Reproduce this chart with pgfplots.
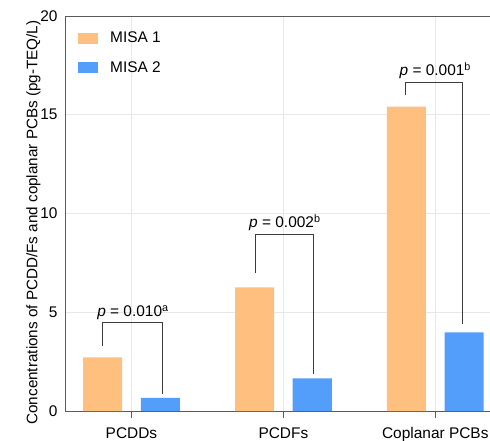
\documentclass[border=0pt]{standalone}
\usepackage{pgfplots}
\pgfplotsset{compat=1.18}
\usepackage{fontspec}
\setmainfont{Liberation Sans}
\definecolor{misaA}{RGB}{254,191,127}
\definecolor{misaB}{RGB}{82,158,250}
\definecolor{axgray}{RGB}{90,90,90}
\definecolor{gridgray}{RGB}{232,232,232}
\definecolor{brk}{RGB}{60,60,60}
\begin{document}
\begin{tikzpicture}
\useasboundingbox (-65bp,-30bp) rectangle (425bp,411bp);
\begin{axis}[
  at={(0,0)}, anchor=south west,
  width=425bp, height=395bp, scale only axis,
  xmin=-0.4375, xmax=2.36,
  ymin=0, ymax=20,
  axis lines=left,
  axis line style={-, axgray, line width=0.9pt},
  xtick={0,1,2},
  xticklabels={PCDDs,PCDFs,Coplanar PCBs},
  ytick={0,5,10,15,20},
  major x tick style={axgray, line width=0.8pt},
  major y tick style={draw=none},
  tick align=outside,
  major tick length=7bp,
  grid=major,
  major grid style={gridgray, line width=0.6pt},
  ticklabel style={font=\fontsize{15.5}{17}\selectfont, text=black},
  /pgf/number format/assume math mode=true,
  yticklabel style={xshift=3bp},
  xticklabel style={yshift=-6bp},
  ylabel={Concentrations of PCDD/Fs and coplanar PCBs (pg-TEQ/L)},
  ylabel style={font=\fontsize{15.3}{17}\selectfont, yshift=-7bp, xshift=-9bp},
  ybar, bar width=0.257,
  legend style={at={(rel axis cs:0,1)}, anchor=north west, xshift=10bp, yshift=-13bp,
    draw=none, fill=none, font=\fontsize{15.5}{17}\selectfont, row sep=15bp,
    nodes={inner sep=1bp}},
  legend cell align=left,
  legend image code/.code={\fill[#1] (0bp,-5.5bp) rectangle (20bp,5.5bp);},
  /tikz/every odd column/.append style={column sep=11bp},
  clip=false,
]
\addplot[fill=misaA, draw=none, bar shift=-0.19] coordinates {(0,2.72) (1,6.26) (2,15.41)};
\addlegendentry{MISA 1}
\addplot[fill=misaB, draw=none, bar shift=0.19] coordinates {(0,0.67) (1,1.65) (2,3.98)};
\addlegendentry{MISA 2}
\draw[axgray, line width=0.9pt] (rel axis cs:0,1) -- (rel axis cs:1,1);
\draw[brk, line width=0.7pt] (axis cs:-0.19,3.29) -- (axis cs:-0.19,4.47) -- (axis cs:0.205,4.47) -- (axis cs:0.205,0.86);
\node[anchor=south, inner sep=0pt, yshift=3bp, font=\fontsize{15.5}{17}\selectfont] at (axis cs:0.01,4.47) {\textit{p} = 0.010\textsuperscript{a}};
\draw[brk, line width=0.7pt] (axis cs:0.8125,6.97) -- (axis cs:0.8125,8.95) -- (axis cs:1.2,8.95) -- (axis cs:1.2,1.87);
\node[anchor=south, inner sep=0pt, yshift=3bp, font=\fontsize{15.5}{17}\selectfont] at (axis cs:1.01,8.95) {\textit{p} = 0.002\textsuperscript{b}};
\draw[brk, line width=0.7pt] (axis cs:1.8,16.0) -- (axis cs:1.8,16.64) -- (axis cs:2.18,16.64) -- (axis cs:2.18,4.4);
\node[anchor=south, inner sep=0pt, yshift=3bp, font=\fontsize{15.5}{17}\selectfont] at (axis cs:2.0,16.64) {\textit{p} = 0.001\textsuperscript{b}};
\end{axis}
\end{tikzpicture}
\end{document}
